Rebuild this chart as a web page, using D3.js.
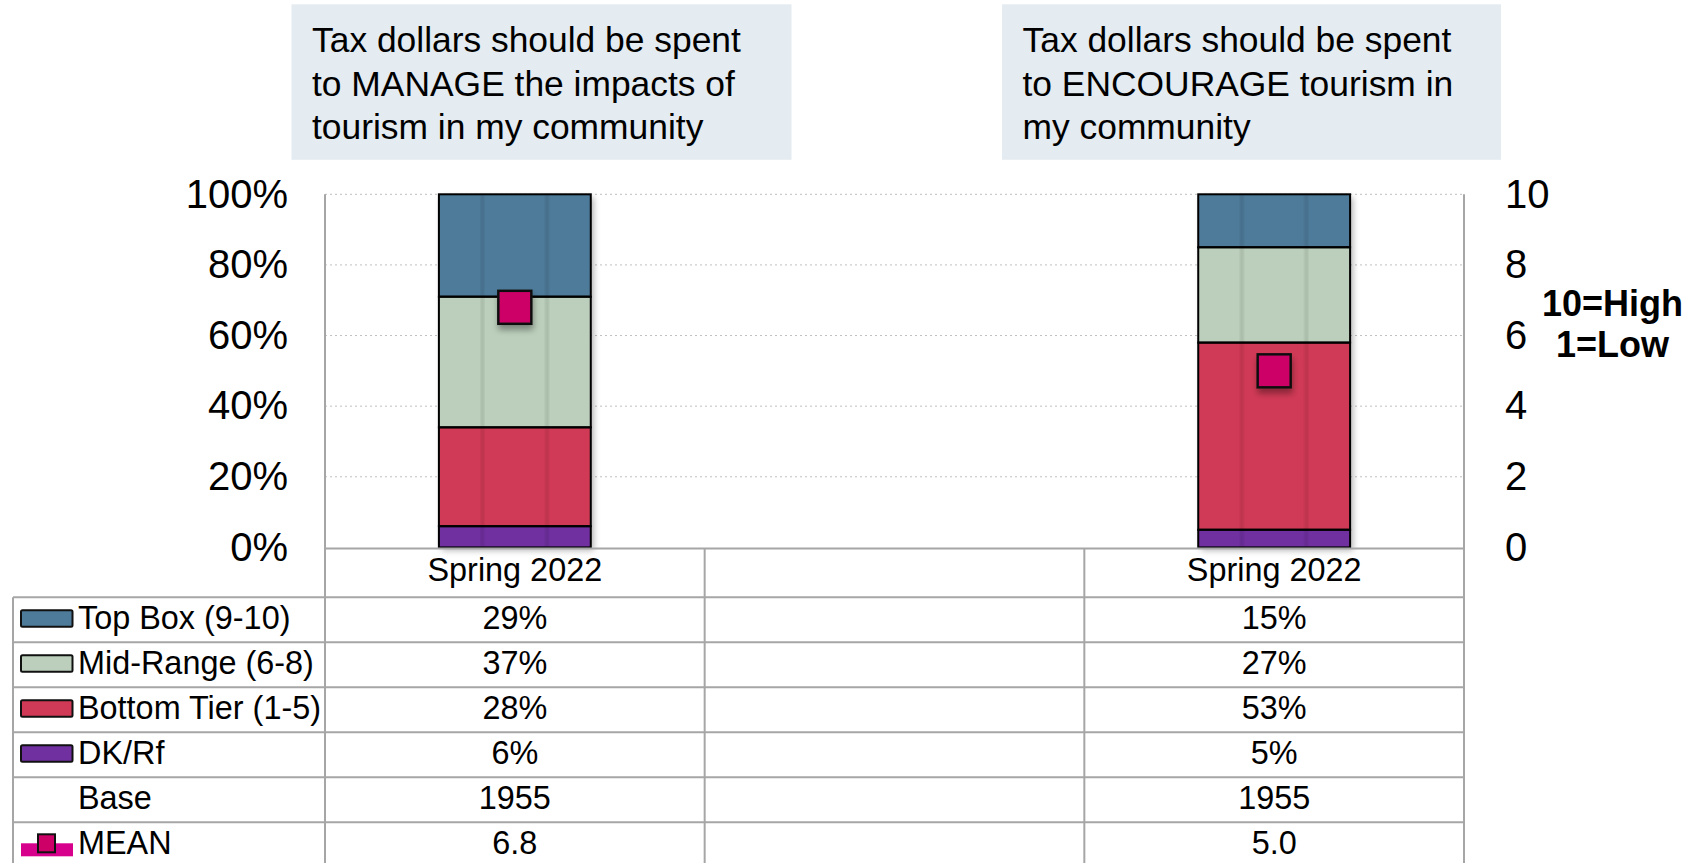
<!DOCTYPE html>
<html>
<head>
<meta charset="utf-8">
<script src="https://cdn.jsdelivr.net/npm/d3@7"></script>
<style>
  html, body { margin: 0; padding: 0; background: #fff; }
  svg { display: block; }
  text { font-family: "Liberation Sans", Arial, sans-serif; }
</style>
</head>
<body>
<svg id="chart" width="1693" height="863"></svg>
<script>
// ---------- data ----------
const titleManage = ["Tax dollars should be spent", "to MANAGE the impacts of", "tourism in my community"];
const titleEncourage = ["Tax dollars should be spent", "to ENCOURAGE tourism in", "my community"];
const columns = ["Spring 2022", "", "Spring 2022"];
const seriesNames = ["Top Box (9-10)", "Mid-Range (6-8)", "Bottom Tier (1-5)", "DK/Rf"];
const seriesColors = ["#4E7B9A", "#BCCFBC", "#D13A56", "#7030A0"];
const topBox = [29, null, 15];
const midRange = [37, null, 27];
const bottomTier = [28, null, 53];
const dkRf = [6, null, 5];
const base = [1955, null, 1955];
const mean = [6.8, null, 5.0];
const pctTicks = [0, 20, 40, 60, 80, 100];
const meanTicks = [0, 2, 4, 6, 8, 10];
const scaleNote = ["10=High", "1=Low"];

// ---------- layout ----------
const svg = d3.select("#chart");
const plotL = 325, plotR = 1464, plotT = 194.3, plotB = 547.4;
const tableL = 13, headerB = 597.3, rowH = 45;
const gridCol = "#A6A6A6";

const x = d3.scaleBand().domain(d3.range(columns.length)).range([plotL, plotR]).paddingInner(0).paddingOuter(0);
const y = d3.scaleLinear().domain([0, 100]).range([plotB, plotT]);
const y2 = d3.scaleLinear().domain([0, 10]).range([plotB, plotT]);
const barW = x.bandwidth() * 0.4;

const defs = svg.append("defs");
const sh = defs.append("filter").attr("id", "shadow").attr("x", "-20%").attr("y", "-20%").attr("width", "140%").attr("height", "140%");
sh.append("feDropShadow").attr("dx", 3).attr("dy", 3).attr("stdDeviation", 3).attr("flood-color", "#000").attr("flood-opacity", 0.3);
const sh2 = defs.append("filter").attr("id", "shadow2").attr("x", "-50%").attr("y", "-50%").attr("width", "200%").attr("height", "200%");
sh2.append("feDropShadow").attr("dx", 1).attr("dy", 5).attr("stdDeviation", 3).attr("flood-color", "#000").attr("flood-opacity", 0.35);
const stripeBlur = defs.append("filter").attr("id", "sblur");
stripeBlur.append("feGaussianBlur").attr("stdDeviation", 1.2);

// ---------- title boxes ----------
const titleBoxes = [
  { lines: titleManage, x: 291.5, w: 500 },
  { lines: titleEncourage, x: 1002, w: 499 }
];
titleBoxes.forEach(b => {
  svg.append("rect").attr("x", b.x).attr("y", 4.3).attr("width", b.w).attr("height", 155.5).attr("fill", "#E4EBF1");
  b.lines.forEach((ln, i) => {
    svg.append("text").attr("x", b.x + 20.5).attr("y", 52 + i * 43.5)
      .attr("font-size", 35.4).attr("fill", "#000").text(ln);
  });
});

// ---------- gridlines ----------
svg.append("g").selectAll("line").data(pctTicks.filter(t => t > 0)).join("line")
  .attr("x1", plotL).attr("x2", plotR)
  .attr("y1", d => y(d)).attr("y2", d => y(d))
  .attr("stroke", "#BFBFBF").attr("stroke-width", 1).attr("stroke-dasharray", "2,3");

// ---------- axes ----------
const axL = svg.append("g").attr("transform", `translate(${plotL},0)`)
  .call(d3.axisLeft(y).tickValues(pctTicks).tickFormat(d => d + "%").tickSize(0).tickPadding(37));
axL.select(".domain").remove();
axL.selectAll("text").attr("font-size", 40).attr("fill", "#000").attr("font-family", "Liberation Sans, Arial, sans-serif");

const axR = svg.append("g").attr("transform", `translate(${plotR},0)`)
  .call(d3.axisRight(y2).tickValues(meanTicks).tickFormat(d3.format("d")).tickSize(0).tickPadding(41));
axR.select(".domain").remove();
axR.selectAll("text").attr("font-size", 40).attr("fill", "#000").attr("font-family", "Liberation Sans, Arial, sans-serif");

scaleNote.forEach((t, i) => {
  svg.append("text").attr("x", 1612.5).attr("y", 316 + i * 41)
    .attr("text-anchor", "middle").attr("font-size", 36).attr("font-weight", "bold").attr("fill", "#000").text(t);
});

// ---------- bars ----------
const stackSeries = [dkRf, bottomTier, midRange, topBox];
const stackColors = [seriesColors[3], seriesColors[2], seriesColors[1], seriesColors[0]];
const barsG = svg.append("g");
columns.forEach((c, i) => {
  if (dkRf[i] == null) return;
  const bx = x(i) + (x.bandwidth() - barW) / 2;
  const g = barsG.append("g");
  g.append("rect").attr("x", bx).attr("y", y(100)).attr("width", barW).attr("height", y(0) - y(100))
    .attr("fill", "#fff").attr("filter", "url(#shadow)");
  let cum = 0;
  stackSeries.forEach((s, k) => {
    const v0 = cum, v1 = cum + s[i];
    cum = v1;
    g.append("rect").attr("x", bx).attr("y", y(v1)).attr("width", barW).attr("height", y(v0) - y(v1))
      .attr("fill", stackColors[k]);
  });
  [0.287, 0.712].forEach(f => {
    g.append("rect").attr("x", bx + barW * f - 2).attr("y", y(100)).attr("width", 4).attr("height", y(0) - y(100))
      .attr("fill", "#000").attr("opacity", 0.09).attr("filter", "url(#sblur)");
  });
  cum = 0;
  stackSeries.forEach((s, k) => {
    const v0 = cum, v1 = cum + s[i];
    cum = v1;
    g.append("rect").attr("x", bx).attr("y", y(v1)).attr("width", barW).attr("height", y(v0) - y(v1))
      .attr("fill", "none").attr("stroke", "#000").attr("stroke-width", 2);
  });
});

// ---------- axis / table lines ----------
const lines = svg.append("g").attr("stroke", gridCol).attr("stroke-width", 2);
lines.append("line").attr("x1", plotL).attr("x2", plotR).attr("y1", plotB + 1).attr("y2", plotB + 1);
lines.append("line").attr("x1", plotL).attr("x2", plotL).attr("y1", plotT).attr("y2", 863);
lines.append("line").attr("x1", plotR).attr("x2", plotR).attr("y1", plotT).attr("y2", 863);
[1, 2].forEach(i => {
  lines.append("line").attr("x1", x(i)).attr("x2", x(i)).attr("y1", plotB + 1).attr("y2", 863);
});
lines.append("line").attr("x1", tableL).attr("x2", tableL).attr("y1", headerB).attr("y2", 863);
d3.range(6).forEach(r => {
  const yy = headerB + r * rowH;
  lines.append("line").attr("x1", tableL).attr("x2", plotR).attr("y1", yy).attr("y2", yy);
});

// ---------- mean markers ----------
columns.forEach((c, i) => {
  if (mean[i] == null) return;
  const cx = x(i) + x.bandwidth() / 2;
  svg.append("rect").attr("x", cx - 16.5).attr("y", y2(mean[i]) - 16.5).attr("width", 33).attr("height", 33)
    .attr("fill", "#CC0066").attr("stroke", "#111").attr("stroke-width", 2.5).attr("filter", "url(#shadow2)");
});

// ---------- table text ----------
const fs = 32.4;
columns.forEach((c, i) => {
  if (!c) return;
  svg.append("text").attr("x", x(i) + x.bandwidth() / 2).attr("y", (plotB + headerB) / 2 - 2)
    .attr("text-anchor", "middle").attr("dominant-baseline", "central").attr("font-size", fs).text(c);
});

const rowData = [
  { label: seriesNames[0], color: seriesColors[0], vals: topBox, fmt: d => d + "%" },
  { label: seriesNames[1], color: seriesColors[1], vals: midRange, fmt: d => d + "%" },
  { label: seriesNames[2], color: seriesColors[2], vals: bottomTier, fmt: d => d + "%" },
  { label: seriesNames[3], color: seriesColors[3], vals: dkRf, fmt: d => d + "%" },
  { label: "Base", color: null, vals: base, fmt: d => String(d) },
  { label: "MEAN", color: "mean", vals: mean, fmt: d3.format(".1f") }
];
rowData.forEach((r, ri) => {
  const top = headerB + ri * rowH;
  const cy = top + rowH / 2;
  if (r.color === "mean") {
    svg.append("rect").attr("x", 21).attr("y", top + 21).attr("width", 52).attr("height", 13).attr("fill", "#D6008D");
    svg.append("rect").attr("x", 38).attr("y", top + 12).attr("width", 17).attr("height", 18)
      .attr("fill", "#CC0066").attr("stroke", "#111").attr("stroke-width", 2);
  } else if (r.color) {
    svg.append("rect").attr("x", 21).attr("y", cy - 9.5).attr("width", 51.5).attr("height", 16.5)
      .attr("rx", 1.5).attr("fill", r.color).attr("stroke", "#111").attr("stroke-width", 2);
  }
  svg.append("text").attr("x", 78).attr("y", cy - 2).attr("dominant-baseline", "central")
    .attr("font-size", fs).attr("fill", "#000").text(r.label);
  r.vals.forEach((v, i) => {
    if (v == null) return;
    svg.append("text").attr("x", x(i) + x.bandwidth() / 2).attr("y", cy - 2)
      .attr("text-anchor", "middle").attr("dominant-baseline", "central")
      .attr("font-size", fs).attr("fill", "#000").text(r.fmt(v));
  });
});
</script>
</body>
</html>
